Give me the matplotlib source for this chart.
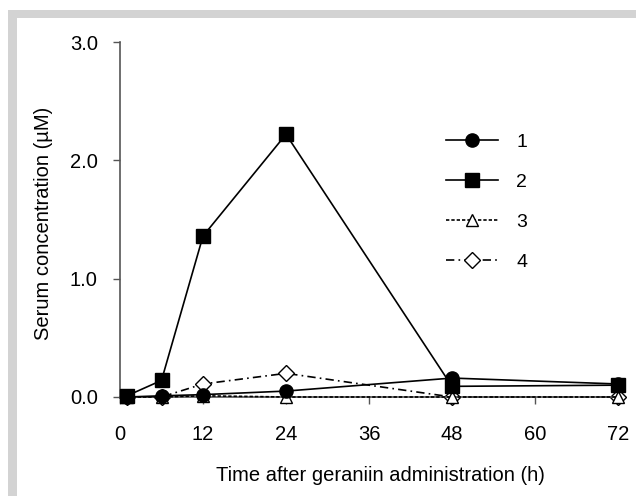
import matplotlib
matplotlib.use("Agg")
import matplotlib.pyplot as plt
from matplotlib.patches import Rectangle

# data
hours = [1, 6, 12, 24, 48, 72]
s1 = [0.0, 0.01, 0.02, 0.05, 0.16, 0.11]
s2 = [0.01, 0.14, 1.36, 2.22, 0.09, 0.10]
s3 = [0.0, 0.0, 0.01, 0.0, 0.0, 0.0]
s4 = [0.0, 0.0, 0.11, 0.20, 0.0, 0.0]
labels = ["1", "2", "3", "4"]
xticks = [0, 12, 24, 36, 48, 60, 72]
yticks = [0.0, 1.0, 2.0, 3.0]

plt.rcParams['font.family'] = ['Liberation Sans', 'DejaVu Sans']

W, H = 636, 496
fig = plt.figure(figsize=(W/100, H/100), dpi=100)

# grey frame on top and left
fig.patches.append(Rectangle((8/W, 0), 8.5/W, (H-10)/H, transform=fig.transFigure,
                             facecolor='#d3d3d3', edgecolor='none', zorder=0))
fig.patches.append(Rectangle((8/W, (H-17.5)/H), (W-8)/W, 7.5/H, transform=fig.transFigure,
                             facecolor='#d3d3d3', edgecolor='none', zorder=0))

ax = fig.add_axes([120/W, (H-397)/H, 498/W, 355/H])

lw = 1.2
ax.plot(hours, s1, color='black', lw=lw, marker='o', ms=9.5, label=labels[0], clip_on=False, zorder=5)
ax.plot(hours, s2, color='black', lw=lw, marker='s', ms=10.5, label=labels[1], clip_on=False, zorder=4)
ax.plot(hours, s3, color='black', lw=lw, ls=(0, (2.0, 1.2)), marker='^', ms=9,
        mfc='white', label=labels[2], clip_on=False, zorder=3)
ax.plot(hours, s4, color='black', lw=lw, ls=(0, (5, 2.5, 1, 2.5)), marker='D', ms=8,
        mfc='white', label=labels[3], clip_on=False, zorder=2)

ax.set_xlim(0, 72)
ax.set_ylim(0, 3.0)
ax.set_xticks(xticks)
ax.set_yticks(yticks)
ax.set_yticklabels(['%.1f' % v for v in yticks])
for side in ['top', 'right']:
    ax.spines[side].set_visible(False)
for side in ['left', 'bottom']:
    ax.spines[side].set_color('#555555')
    ax.spines[side].set_linewidth(1.2)
ax.tick_params(axis='both', direction='out', length=5, width=1, color='#555555', labelsize=14.5)
ax.tick_params(axis='y', pad=11)
ax.tick_params(axis='x', pad=15)

ax.set_xlabel('Time after geraniin administration (h)', fontsize=14.5)
ax.xaxis.set_label_coords(0.522, -0.195)
ax.set_ylabel('Serum concentration (µM)', fontsize=14.5)
ax.yaxis.set_label_coords(-0.135, 0.49)

ax.legend(loc='upper left', bbox_to_anchor=(428/W, (H-116)/H), bbox_transform=fig.transFigure,
          frameon=False, fontsize=14, handlelength=2.7, labelspacing=1.15, handletextpad=0.95)

fig.savefig('out.png', dpi=100)
